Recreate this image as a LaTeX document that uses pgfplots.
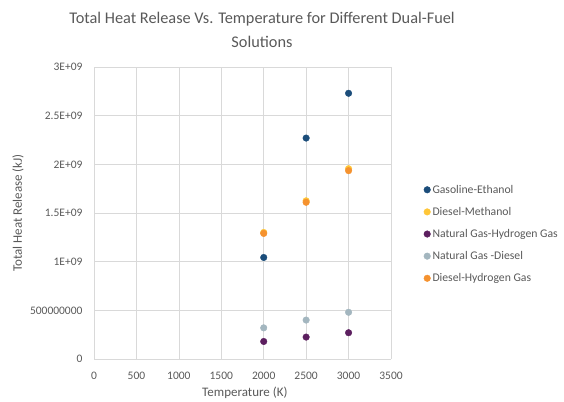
\documentclass[border=0pt]{standalone}
\usepackage{pgfplots}
\pgfplotsset{compat=1.18}
\usepackage{fontspec}
\setmainfont{Carlito}
\definecolor{txt}{HTML}{595959}
\definecolor{grd}{HTML}{D9D9D9}
\definecolor{cGE}{HTML}{1B4D7A}
\definecolor{cDM}{HTML}{FFC638}
\definecolor{cNH}{HTML}{5C1F5F}
\definecolor{cND}{HTML}{A3B6BF}
\definecolor{cDH}{HTML}{F5922F}
\begin{document}
\begin{tikzpicture}
\path[use as bounding box] (0,0) rectangle (564pt,401pt);
\node[text=txt, font=\fontsize{16.3}{24}\selectfont, align=center] at (262pt,371pt) {Total Heat Release Vs. Temperature for Different Dual-Fuel\\Solutions};
\begin{axis}[
  at={(94pt,42pt)}, anchor=south west,
  scale only axis, width=297pt, height=292pt,
  xmin=0, xmax=3500, ymin=0, ymax=3e9,
  xtick={0,500,...,3500},
  ytick={0,5e8,1e9,1.5e9,2e9,2.5e9,3e9},
  yticklabels={0,500000000,1E+09,1.5E+09,2E+09,2.5E+09,3E+09},
  scaled y ticks=false,
  /pgf/number format/assume math mode=true,
  /pgf/number format/set thousands separator={},
  tick label style={text=txt, font=\fontsize{11.5}{13}\selectfont},
  xticklabel style={yshift=-10pt},
  yticklabel style={xshift=-8pt},
  major tick length=0pt,
  grid=major, major grid style={grd, line width=0.7pt},
  axis line style={draw=none},
  xlabel={Temperature (K)}, ylabel={Total Heat Release (kJ)},
  label style={text=txt, font=\fontsize{13}{15}\selectfont},
  xlabel style={at={(axis description cs:0.508,-0.117)}, anchor=center},
  ylabel style={at={(axis description cs:-0.256,0.5)}, anchor=center},
  legend style={at={(axis description cs:1.10,0.428)}, anchor=west, draw=none,
    font=\fontsize{11.7}{13}\selectfont, text=txt, row sep=8.5pt,
    legend cell align=left, fill=none},
  legend image code/.code={\draw[#1] plot coordinates {(0.1cm,0cm)};},
  mark size=3.3pt,
]
\draw[grd, line width=0.9pt] (axis cs:0,0) -- (axis cs:3500,0);
\addplot[only marks, mark=*, draw=cGE, fill=cGE] coordinates {(2000,1.043e9) (2500,2.27e9) (3000,2.73e9)};
\addlegendentry{Gasoline-Ethanol}
\addplot[only marks, mark=*, draw=cDM, fill=cDM] coordinates {(2000,1.30e9) (2500,1.625e9) (3000,1.955e9)};
\addlegendentry{Diesel-Methanol}
\addplot[only marks, mark=*, draw=cNH, fill=cNH] coordinates {(2000,1.80e8) (2500,2.25e8) (3000,2.70e8)};
\addlegendentry{Natural Gas-Hydrogen Gas}
\addplot[only marks, mark=*, draw=cND, fill=cND] coordinates {(2000,3.20e8) (2500,4.00e8) (3000,4.80e8)};
\addlegendentry{Natural Gas -Diesel}
\addplot[only marks, mark=*, draw=cDH, fill=cDH] coordinates {(2000,1.29e9) (2500,1.61e9) (3000,1.935e9)};
\addlegendentry{Diesel-Hydrogen Gas}
\end{axis}
\end{tikzpicture}
\end{document}
